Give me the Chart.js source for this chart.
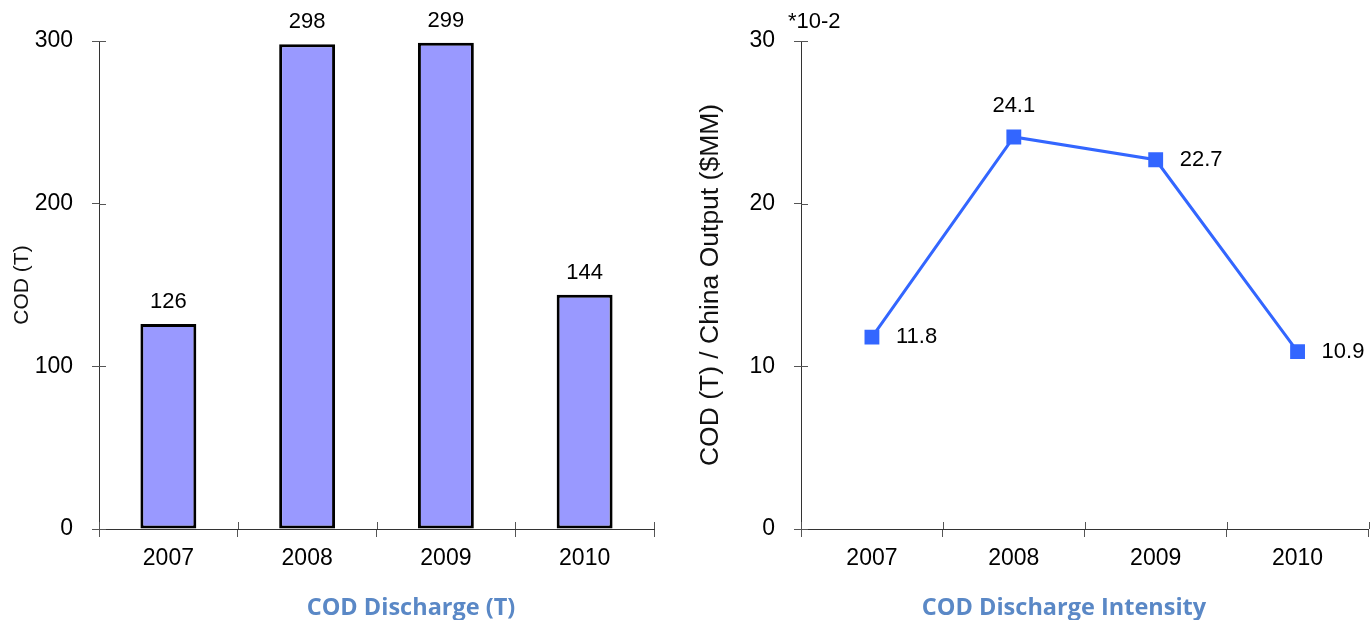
<!DOCTYPE html>
<html lang="en">
<head>
  <meta charset="UTF-8" />
  <title>COD Discharge</title>
  <script src="https://cdn.jsdelivr.net/npm/chart.js"></script>
  <style>
    html, body {
      margin: 0;
      padding: 0;
      background: #fff;
      overflow: hidden;
    }
    .panel {
      position: absolute;
      top: 0;
      height: 620px;
    }
    #leftPanel { left: 0; width: 690px; }
    /* right plot runs slightly past the window edge */
    #rightPanel { left: 690px; width: 689px; }
  </style>
</head>
<body>
  <div class="panel" id="leftPanel"><canvas id="dischargeChart"></canvas></div>
  <div class="panel" id="rightPanel"><canvas id="intensityChart"></canvas></div>

  <script>
    const years = ['2007', '2008', '2009', '2010'];
    const codDischarge = [126, 298, 299, 144];
    const codIntensity = [11.8, 24.1, 22.7, 10.9];
    const dischargeTicks = [0, 100, 200, 300];
    const intensityTicks = [0, 10, 20, 30];

    const TICK_FONT = { family: "'Liberation Sans', Arial, sans-serif", size: 23 };
    const AXIS_COLOR = '#333';
    const TICK_COLOR = '#555';

    // numbers printed next to each bar / point
    const valueLabels = {
      id: 'valueLabels',
      afterDatasetsDraw(chart, args, opts) {
        const ctx = chart.ctx;
        const meta = chart.getDatasetMeta(0);
        const data = chart.data.datasets[0].data;
        ctx.save();
        ctx.font = opts.font;
        ctx.fillStyle = '#000';
        meta.data.forEach((el, i) => {
          let x = el.x, y = el.y;
          if (opts.place[i] === 'top') {
            ctx.textAlign = 'center';
            ctx.textBaseline = 'alphabetic';
            y -= opts.gapTop;
          } else {
            ctx.textAlign = 'left';
            ctx.textBaseline = 'middle';
            x += opts.gapSide;
          }
          ctx.fillText(opts.format(data[i]), x, y);
        });
        ctx.restore();
      }
    };

    // tick marks cross the axes, so add the part that sits inside the plot
    const crossTicks = {
      id: 'crossTicks',
      afterDraw(chart, args, opts) {
        const { ctx, chartArea: a } = chart;
        const x = chart.scales.x, y = chart.scales.y;
        ctx.save();
        ctx.strokeStyle = opts.color;
        ctx.lineWidth = 1;
        ctx.beginPath();
        for (let i = 0; i <= x.ticks.length; i++) {
          const px = Math.round(x.getPixelForValue(i - 0.5)) + 0.5;
          ctx.moveTo(px, a.bottom);
          ctx.lineTo(px, a.bottom - opts.inner);
        }
        y.ticks.forEach(t => {
          const py = Math.round(y.getPixelForValue(t.value)) + 0.5;
          ctx.moveTo(a.left, py);
          ctx.lineTo(a.left + opts.inner, py);
        });
        ctx.stroke();
        ctx.restore();
      }
    };

    // caption under the chart and optional note beside the axis top
    const captions = {
      id: 'captions',
      afterDraw(chart, args, opts) {
        const { ctx, chartArea: a } = chart;
        ctx.save();
        ctx.font = opts.titleFont;
        ctx.fillStyle = opts.titleColor;
        ctx.textAlign = 'center';
        ctx.textBaseline = 'alphabetic';
        ctx.fillText(opts.title, opts.titleX, opts.titleY);
        if (opts.note) {
          ctx.font = opts.noteFont;
          ctx.fillStyle = '#000';
          ctx.textAlign = 'left';
          ctx.textBaseline = 'middle';
          ctx.fillText(opts.note, a.left - 13, a.top - 19);
        }
        ctx.restore();
      }
    };

    function valueAxis(ticks, title, titleSize, titlePad, width) {
      return {
        min: ticks[0],
        max: ticks[ticks.length - 1],
        afterBuildTicks: s => { s.ticks = ticks.map(v => ({ value: v })); },
        afterFit: s => { s.width = width; },
        border: { display: true, color: AXIS_COLOR, width: 1 },
        grid: { drawOnChartArea: false, tickLength: 7, color: TICK_COLOR },
        ticks: { font: TICK_FONT, color: '#000', padding: 19 },
        title: {
          display: true,
          text: title,
          color: '#111',
          font: { family: "'Liberation Sans', Arial, sans-serif", size: titleSize },
          padding: { top: titlePad, bottom: 0 }
        }
      };
    }

    function yearAxis() {
      return {
        type: 'category',
        offset: true,
        afterFit: s => { s.height = 91; },
        border: { display: true, color: AXIS_COLOR, width: 1 },
        grid: { offset: true, drawOnChartArea: false, tickLength: 8, color: TICK_COLOR },
        ticks: { font: TICK_FONT, color: '#000', padding: 8 }
      };
    }

    const captionFont = "bold 23.5px 'Open Sans', sans-serif";
    const captionColor = '#5a88c6';

    new Chart(document.getElementById('dischargeChart'), {
      type: 'bar',
      data: {
        labels: years,
        datasets: [{
          data: codDischarge,
          backgroundColor: '#9999ff',
          borderColor: '#000',
          borderWidth: 3,
          borderSkipped: false,
          barPercentage: 0.403,
          categoryPercentage: 1
        }]
      },
      options: {
        responsive: true,
        maintainAspectRatio: false,
        animation: false,
        layout: { padding: { top: 41, right: 36, left: 0, bottom: 0 } },
        scales: {
          x: yearAxis(),
          y: valueAxis(dischargeTicks, 'COD (T)', 21, 9.5, 99)
        },
        plugins: {
          legend: { display: false },
          tooltip: { enabled: false },
          valueLabels: {
            font: "22px 'Liberation Sans', Arial, sans-serif",
            place: ['top', 'top', 'top', 'top'],
            gapTop: 16, gapSide: 0,
            format: v => String(v)
          },
          crossTicks: { color: TICK_COLOR, inner: 7 },
          captions: {
            title: 'COD Discharge (T)', titleX: 411, titleY: 615,
            titleFont: captionFont, titleColor: captionColor
          }
        }
      },
      plugins: [valueLabels, crossTicks, captions]
    });

    new Chart(document.getElementById('intensityChart'), {
      type: 'line',
      data: {
        labels: years,
        datasets: [{
          data: codIntensity,
          borderColor: '#3366ff',
          backgroundColor: '#3366ff',
          borderWidth: 3,
          pointStyle: 'rect',
          pointRadius: 10.5,
          pointBorderWidth: 0,
          tension: 0
        }]
      },
      options: {
        responsive: true,
        maintainAspectRatio: false,
        animation: false,
        layout: { padding: { top: 41, right: 0, left: 0, bottom: 0 } },
        scales: {
          x: yearAxis(),
          y: valueAxis(intensityTicks, 'COD (T) / China Output ($MM)', 26.5, 5, 111)
        },
        plugins: {
          legend: { display: false },
          tooltip: { enabled: false },
          valueLabels: {
            font: "22px 'Liberation Sans', Arial, sans-serif",
            place: ['right', 'top', 'right', 'right'],
            gapTop: 25, gapSide: 24,
            format: v => v.toFixed(1)
          },
          crossTicks: { color: TICK_COLOR, inner: 7 },
          captions: {
            title: 'COD Discharge Intensity', titleX: 374, titleY: 615,
            titleFont: captionFont, titleColor: captionColor,
            note: '*10-2', noteFont: "22px 'Liberation Sans', Arial, sans-serif"
          }
        }
      },
      plugins: [valueLabels, crossTicks, captions]
    });
  </script>
</body>
</html>
